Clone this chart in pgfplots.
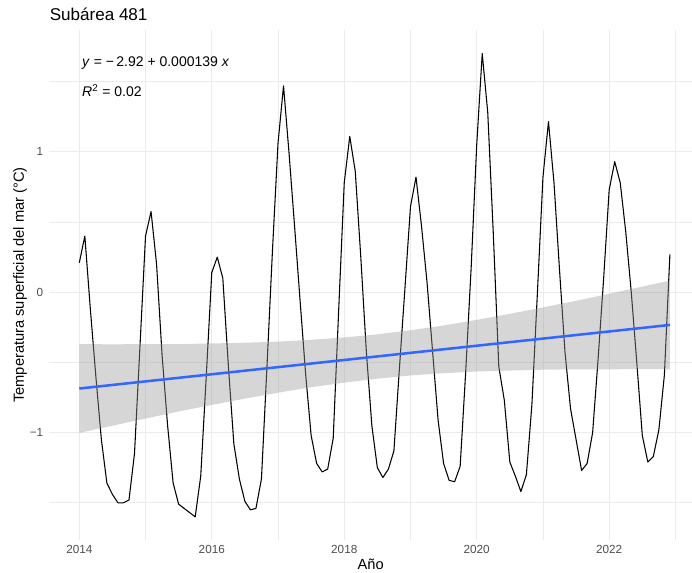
\documentclass[border=0pt]{standalone}
\usepackage{fontspec}
\setmainfont{Liberation Sans}
\usepackage{pgfplots}
\pgfplotsset{compat=1.18}
\usepackage{pgfplotstable}
\definecolor{gridc}{RGB}{235,235,235}
\definecolor{tickc}{RGB}{77,77,77}
\definecolor{smoothblue}{RGB}{51,102,255}
\definecolor{bandc}{RGB}{153,153,153}

\pgfplotstableread{
m v
0 0.21
1 0.40
2 -0.12
3 -0.60
4 -1.05
5 -1.36
6 -1.44
7 -1.50
8 -1.50
9 -1.48
10 -1.15
11 -0.38
12 0.40
13 0.575
14 0.20
15 -0.45
16 -0.95
17 -1.36
18 -1.51
19 -1.54
20 -1.57
21 -1.60
22 -1.31
23 -0.60
24 0.14
25 0.25
26 0.10
27 -0.52
28 -1.08
29 -1.33
30 -1.49
31 -1.55
32 -1.54
33 -1.33
34 -0.53
35 0.30
36 1.06
37 1.47
38 0.99
39 0.47
40 -0.06
41 -0.58
42 -1.02
43 -1.22
44 -1.28
45 -1.26
46 -1.04
47 -0.12
48 0.78
49 1.11
50 0.86
51 0.25
52 -0.42
53 -0.95
54 -1.25
55 -1.32
56 -1.26
57 -1.13
58 -0.54
59 0.03
60 0.61
61 0.82
62 0.47
63 0.07
64 -0.42
65 -0.91
66 -1.22
67 -1.34
68 -1.35
69 -1.24
70 -0.57
71 0.18
72 1.05
73 1.70
74 1.28
75 0.42
76 -0.53
77 -0.77
78 -1.21
79 -1.31
80 -1.42
81 -1.30
82 -0.80
83 0.00
84 0.82
85 1.215
86 0.78
87 0.16
88 -0.43
89 -0.83
90 -1.05
91 -1.27
92 -1.22
93 -1.00
94 -0.47
95 0.10
96 0.73
97 0.93
98 0.78
99 0.43
100 0.00
101 -0.50
102 -1.02
103 -1.21
104 -1.17
105 -0.98
106 -0.59
107 0.27
}\sst

\pgfplotstableread{
x y
2014.000 -0.370
2014.500 -0.371
2015.000 -0.370
2015.500 -0.370
2016.000 -0.365
2016.500 -0.360
2017.000 -0.352
2017.500 -0.339
2018.000 -0.322
2018.500 -0.300
2019.000 -0.271
2019.500 -0.237
2020.000 -0.197
2020.500 -0.154
2021.000 -0.108
2021.500 -0.061
2022.000 -0.011
2022.500 0.040
2022.917 0.083
2022.917 -0.549
2022.500 -0.548
2022.000 -0.549
2021.500 -0.549
2021.000 -0.552
2020.500 -0.558
2020.000 -0.565
2019.500 -0.577
2019.000 -0.593
2018.500 -0.616
2018.000 -0.644
2017.500 -0.677
2017.000 -0.716
2016.500 -0.758
2016.000 -0.803
2015.500 -0.850
2015.000 -0.900
2014.500 -0.951
2014.000 -1.002
}\band

\begin{document}
\begin{tikzpicture}
\path[use as bounding box] (0,0) rectangle (519pt,429.75pt);
\begin{axis}[
  at={(37.125pt,24.75pt)}, anchor=south west,
  scale only axis, width=481.875pt, height=382.2pt,
  xmin=2013.55, xmax=2023.25, ymin=-1.765, ymax=1.865,
  axis line style={draw=none},
  tick style={draw=none},
  xtick={2014,2016,2018,2020,2022},
  xticklabels={2014,2016,2018,2020,2022},
  minor xtick={2015,2017,2019,2021,2023},
  ytick={-1,0,1},
  yticklabels={−1,0,1},
  minor ytick={-1.5,-0.5,0.5,1.5},
  grid=both,
  major grid style={color=gridc, line width=0.8pt},
  minor grid style={color=gridc, line width=0.5pt},
  tick label style={font=\fontsize{8.8}{10}\selectfont, text=tickc},
  xticklabel style={inner sep=0pt, yshift=-4pt},
  yticklabel style={inner sep=0pt, xshift=-4.5pt},
]
\addplot[black, line width=0.8pt, line join=round] table[x expr=2014+\thisrow{m}/12, y=v] {\sst};
\addplot[draw=none, fill=bandc, fill opacity=0.4] table[x=x, y=y] {\band} -- cycle;
\addplot[smoothblue, line width=1.9pt] coordinates {(2014,-0.686) (2022.917,-0.233)};
\node[anchor=base west, inner sep=0pt, font=\fontsize{10.5}{12}\selectfont] at (axis cs:2014.04,1.607) {\textit{y}\;=\;−\,2.92\;+\;0.000139\;\textit{x}};
\node[anchor=base west, inner sep=0pt, font=\fontsize{10.5}{12}\selectfont] at (axis cs:2014.04,1.391) {\textit{R}\textsuperscript{2}\;=\;0.02};
\end{axis}
\node[anchor=base west, inner sep=0pt, font=\fontsize{12.8}{15}\selectfont] at (37.125pt,414.2pt) {Subárea 481};
\node[anchor=base, inner sep=0pt, font=\fontsize{11}{13}\selectfont] at (278pt,2.5pt) {Año};
\node[rotate=90, anchor=center, inner sep=0pt, font=\fontsize{11}{13}\selectfont] at (15pt,216pt) {Temperatura superficial del mar (°C)};
\end{tikzpicture}
\end{document}
